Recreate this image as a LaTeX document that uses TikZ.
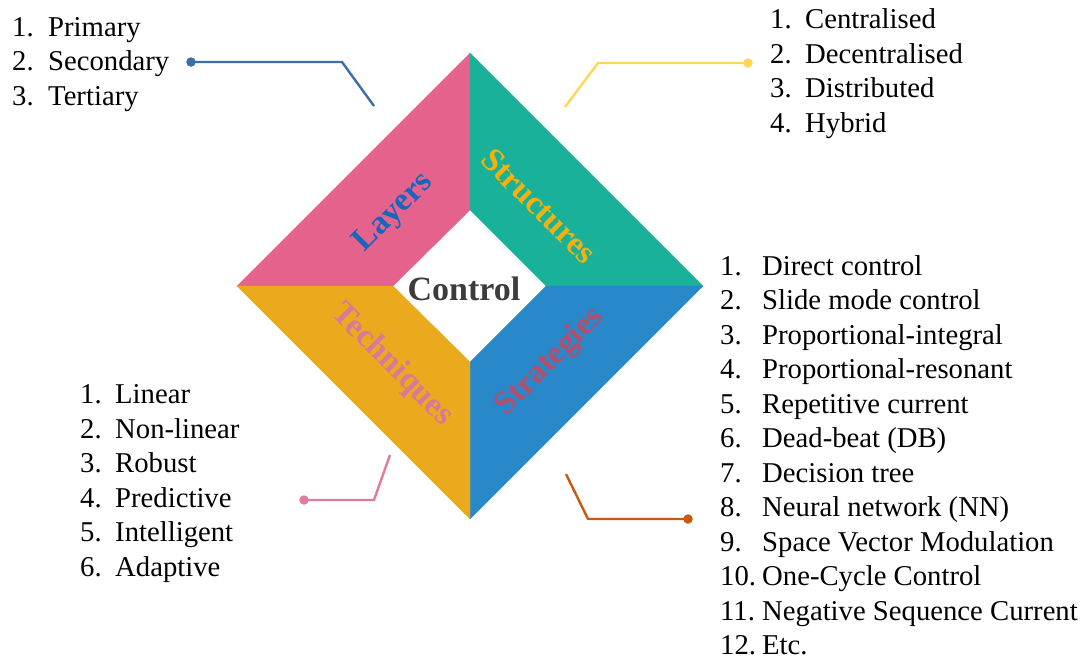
\documentclass[tikz,border=0pt]{standalone}
\usepackage{fontspec}
\setmainfont{Liberation Serif}

% quadrant fills
\definecolor{qpink}{HTML}{E5628D}
\definecolor{qgreen}{HTML}{1AB19A}
\definecolor{qblue}{HTML}{2988CA}
\definecolor{qorange}{HTML}{EBAA1E}
% quadrant captions
\definecolor{tlayers}{HTML}{1766BE}
\definecolor{tstruct}{HTML}{F2B10C}
\definecolor{ttech}{HTML}{DB7898}
\definecolor{tstrat}{HTML}{B24F6D}
\definecolor{tcentre}{HTML}{3C3C3C}
% leader lines
\definecolor{lblue}{HTML}{3D6EA6}
\definecolor{lyellow}{HTML}{FFD65C}
\definecolor{lpink}{HTML}{E07BA0}
\definecolor{lorange}{HTML}{C55A11}

\begin{document}
\begin{tikzpicture}[x=1pt,y=-1pt,
  item/.style={anchor=base west, inner sep=0pt, font=\fontsize{28.7}{34}\selectfont},
  quadlabel/.style={inner sep=0pt, font=\bfseries\fontsize{33}{40}\selectfont},
  lead/.style={line width=2.4pt, line join=miter},
  tipdot/.style={circle, fill, inner sep=0pt, minimum size=9.5pt}]
\useasboundingbox (0,0) rectangle (1087,659);

% outer and inner diamond corners
\coordinate (OT) at (470,53);
\coordinate (OR) at (703,286);
\coordinate (OB) at (470,519);
\coordinate (OL) at (237,286);
\coordinate (IT) at (470,210);
\coordinate (IR) at (546,286);
\coordinate (IB) at (470,362);
\coordinate (IL) at (393,286);

% four quadrants
\filldraw[qpink, line width=0.3pt]   (OL) -- (OT) -- (IT) -- (IL) -- cycle;
\filldraw[qgreen, line width=0.3pt]  (OT) -- (OR) -- (IR) -- (IT) -- cycle;
\filldraw[qblue, line width=0.3pt]   (OR) -- (OB) -- (IB) -- (IR) -- cycle;
\filldraw[qorange, line width=0.3pt] (OB) -- (OL) -- (IL) -- (IB) -- cycle;

% captions
\node[quadlabel, text=tlayers, rotate=45]  (layers) at (394,213) {Layers};
\node[quadlabel, text=tstruct, rotate=-45] (structures) at (539,206) {Structures};
\node[quadlabel, text=ttech, rotate=-45]   (techniques) at (392,365) {Techniques};
\node[quadlabel, text=tstrat, rotate=45]   (strategies) at (550,362) {Strategies};
\node[anchor=base, inner sep=0pt, text=tcentre,
      font=\bfseries\fontsize{34}{40}\selectfont] (control) at (464,300) {Control};

% lists
\foreach \t [count=\i] in {Primary,Secondary,Tertiary} {
  \node[item] (lay-n\i) at (12,{36+34.5*(\i-1)}) {\i.};
  \node[item] (lay-t\i) at (48,{36+34.5*(\i-1)}) {\t};
}
\foreach \t [count=\i] in {Centralised,Decentralised,Distributed,Hybrid} {
  \node[item] (str-n\i) at (770,{28.5+34.5*(\i-1)}) {\i.};
  \node[item] (str-t\i) at (805,{28.5+34.5*(\i-1)}) {\t};
}
\foreach \t [count=\i] in {Direct control,Slide mode control,Proportional-integral,
    Proportional-resonant,Repetitive current,Dead-beat (DB),Decision tree,
    Neural network (NN),Space Vector Modulation,One-Cycle Control,
    Negative Sequence Current,Etc.} {
  \node[item] (stg-n\i) at (720,{275+34.5*(\i-1)}) {\i.};
  \node[item] (stg-t\i) at (762,{275+34.5*(\i-1)}) {\t};
}
\foreach \t [count=\i] in {Linear,Non-linear,Robust,Predictive,Intelligent,Adaptive} {
  \node[item] (tec-n\i) at (80,{403.5+34.5*(\i-1)}) {\i.};
  \node[item] (tec-t\i) at (115,{403.5+34.5*(\i-1)}) {\t};
}

% leader lines with dot ends
\node[tipdot, lblue] (dlay) at (191,62) {};
\coordinate (blay) at (342,62);
\coordinate (elay) at (374,106);
\draw[lead, lblue] (dlay.center) -- (blay) -- (elay);

\node[tipdot, lyellow] (dstr) at (748,63) {};
\coordinate (bstr) at (598,63);
\coordinate (estr) at (565,107);
\draw[lead, lyellow] (estr) -- (bstr) -- (dstr.center);

\node[tipdot, lpink] (dtec) at (304,500) {};
\coordinate (btec) at (374,500);
\coordinate (etec) at (390,455);
\draw[lead, lpink] (dtec.center) -- (btec) -- (etec);

\node[tipdot, lorange] (dstg) at (688,519) {};
\coordinate (bstg) at (588,519);
\coordinate (estg) at (566,474);
\draw[lead, lorange] (estg) -- (bstg) -- (dstg.center);
\end{tikzpicture}
\end{document}
